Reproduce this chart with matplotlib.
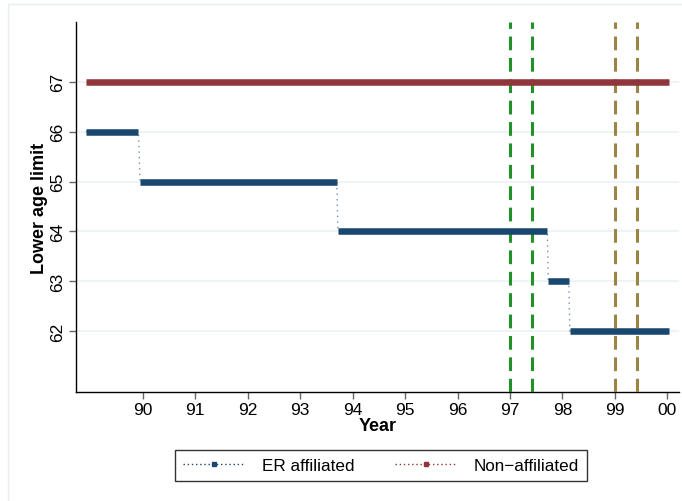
import matplotlib
matplotlib.use("Agg")
import matplotlib.pyplot as plt
from matplotlib.lines import Line2D
from matplotlib.patches import Rectangle

# ER affiliated: step segments (start year, end year, lower age limit)
er_start = [88.92, 89.95, 93.72, 97.73, 98.14]
er_end = [89.92, 93.70, 97.71, 98.12, 100.03]
er_value = [66, 65, 64, 63, 62]

# Non-affiliated
na_start = [88.92]
na_end = [100.03]
na_value = [67]

# Reference lines
green_lines = [97.0, 97.42]
olive_lines = [99.0, 99.42]

xticks = [90, 91, 92, 93, 94, 95, 96, 97, 98, 99, 100]
xticklabels = ["90", "91", "92", "93", "94", "95", "96", "97", "98", "99", "00"]
yticks = [62, 63, 64, 65, 66, 67]

navy = "#1a476f"
maroon = "#90353b"
green = "#22912a"
olive = "#9a8544"
grid_c = "#eaf2f3"

plt.rcParams["font.family"] = ["Liberation Sans", "DejaVu Sans"]

fig = plt.figure(figsize=(6.82, 5.02), dpi=100)
fig.patch.set_facecolor("white")
# outer frame
fig.patches.append(Rectangle((8 / 682, -0.1), 1.2, 1.1 - 5 / 502,
                             transform=fig.transFigure, fill=False,
                             edgecolor="#e8eef0", linewidth=1.0))

ax = fig.add_axes([76 / 682, 1 - 393 / 502, (679 - 76) / 682, (393 - 23) / 502])
ax.set_xlim(88.73, 100.22)
ax.set_ylim(60.78, 68.2)

for y in yticks:
    ax.axhline(y, color=grid_c, linewidth=1.2, zorder=0)

for x in green_lines:
    ax.axvline(x, color=green, linewidth=2.2, linestyle=(0, (4.5, 2.5)), zorder=3)
for x in olive_lines:
    ax.axvline(x, color=olive, linewidth=2.2, linestyle=(0, (4.5, 2.5)), zorder=3)

def draw_series(starts, ends, vals, color):
    xs, ys = [], []
    for s, e, v in zip(starts, ends, vals):
        xs += [s, e]
        ys += [v, v]
    ax.plot(xs, ys, linestyle=(0, (1, 3)), color=color, linewidth=1.0, alpha=0.6, zorder=2)
    ax.hlines(vals, starts, ends, color=color, linewidth=4.7, zorder=4)

draw_series(er_start, er_end, er_value, navy)
draw_series(na_start, na_end, na_value, maroon)

ax.set_xticks(xticks)
ax.set_xticklabels(xticklabels)
ax.set_yticks(yticks)
ax.set_yticklabels([str(v) for v in yticks], rotation=90, va="center")
ax.tick_params(axis="both", labelsize=12.5, length=5, color="#666666", width=1.0)
ax.tick_params(axis="y", pad=3)
ax.tick_params(axis="x", pad=2)

for side in ["top", "right"]:
    ax.spines[side].set_visible(False)
ax.spines["left"].set_linewidth(1.0)
ax.spines["bottom"].set_linewidth(1.0)

ax.set_xlabel("Year", fontsize=13, fontweight="bold", labelpad=0)
ax.set_ylabel("Lower age limit", fontsize=13, fontweight="bold", labelpad=1)

handles = [
    Line2D([0], [0], color=navy, linestyle=(0, (1, 2)), linewidth=1.0, marker="s", markersize=3.5),
    Line2D([0], [0], color=maroon, linestyle=(0, (1, 2)), linewidth=1.0, marker="s", markersize=3.5),
]
leg = fig.legend(handles, ["ER affiliated", "Non\u2212affiliated"], loc="center",
                 bbox_to_anchor=(381 / 682, 1 - 466.5 / 502), ncol=2, frameon=True,
                 fontsize=12.3, fancybox=False, edgecolor="black", handlelength=3.6,
                 columnspacing=2.4, borderpad=0.45, handletextpad=1.0)
leg.get_frame().set_linewidth(1.0)

fig.savefig("out.png", dpi=100, facecolor="white")
